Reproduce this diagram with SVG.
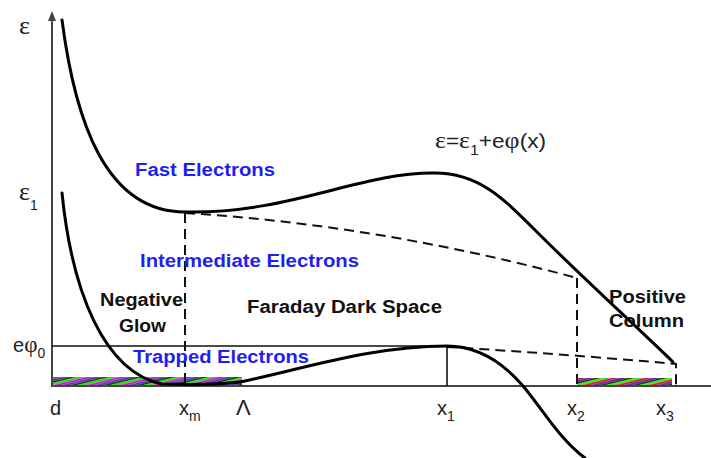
<svg xmlns="http://www.w3.org/2000/svg" width="711" height="458" viewBox="0 0 711 458">
<style>
.curve{fill:none;stroke:#000;stroke-width:3;stroke-linecap:round;stroke-linejoin:round}
.dash{fill:none;stroke:#111;stroke-width:2;stroke-dasharray:10,6}
.axis{fill:none;stroke:#444;stroke-width:2}
.thin{fill:none;stroke:#111;stroke-width:1.6}
.lbl{font-family:"Liberation Sans",Arial,sans-serif;font-size:20px;fill:#222}
.greek{font-family:"Liberation Serif","Times New Roman",serif}
.sub{font-size:14px}
.bold{font-family:"Liberation Sans",Arial,sans-serif;font-size:18px;font-weight:bold;fill:#111}
.blue{fill:#1f1ff0}
</style>
<defs>
<pattern id="hatch1" patternUnits="userSpaceOnUse" width="40" height="8" patternTransform="rotate(-14)">
<rect x="0" y="0" width="40" height="2.5" fill="#33dd22"/>
<rect x="0" y="2.5" width="40" height="2" fill="#cc11bb"/>
<rect x="0" y="4.5" width="40" height="2" fill="#5533cc"/>
<rect x="0" y="6.5" width="40" height="1.5" fill="#1a2a1a"/>
</pattern>
<pattern id="hatch2" patternUnits="userSpaceOnUse" width="40" height="8" patternTransform="rotate(-14)">
<rect x="0" y="0" width="40" height="2.5" fill="#44ee22"/>
<rect x="0" y="2.5" width="40" height="2" fill="#dd1111"/>
<rect x="0" y="4.5" width="40" height="2" fill="#5522bb"/>
<rect x="0" y="6.5" width="40" height="1.5" fill="#222"/>
</pattern>
</defs>

<g id="bars">
<rect x="52" y="377" width="190" height="9" fill="url(#hatch1)"/>
<rect x="577" y="378" width="95" height="8" fill="url(#hatch2)"/>
</g>

<g id="axes">
<line class="axis" x1="52" y1="18" x2="52" y2="387"/>
<polygon points="52,11 48,21 56,21" fill="#444"/>
<line class="axis" x1="51" y1="386" x2="711" y2="386"/>
</g>

<g id="connectors">
<line class="thin" x1="52" y1="346" x2="447" y2="346"/>
<line class="thin" x1="447" y1="346" x2="447" y2="386"/>
<path class="dash" d="M185,213 Q380,225 577,278"/>
<line class="dash" x1="185" y1="213" x2="185" y2="386"/>
<line class="dash" x1="577" y1="278" x2="577" y2="386"/>
<path class="dash" d="M447,347 Q565,354 676,364 L676,386"/>
</g>

<g id="upper-curve">
<path class="curve" d="M62,20 C75,120 105,212 185,212 C290,214 360,172 435,173 C480,173 505,200 540,235 C580,275 640,330 673,362"/>
</g>

<g id="lower-curve">
<path class="curve" d="M62,193 C72,292 104,372 162,384 C192,385 215,385 240,382 C300,370 370,346 447,346 C480,346 505,365 523,386 C541,407 560,440 585,458"/>
</g>

<g id="axis-labels">
<text class="lbl greek" x="19" y="34" style="font-size:26px">ε</text>
<text class="lbl" x="19" y="200"><tspan class="greek" style="font-size:26px">ε</tspan><tspan class="sub" dy="10">1</tspan></text>
<text class="lbl" x="13" y="352">e<tspan class="greek" style="font-size:23px">φ</tspan><tspan class="sub" dy="6">0</tspan></text>
<text class="lbl" x="435" y="148" textLength="111" lengthAdjust="spacingAndGlyphs"><tspan class="greek" style="font-size:23px">ε</tspan>=<tspan class="greek" style="font-size:23px">ε</tspan><tspan class="sub" dy="7">1</tspan><tspan dy="-7">+e</tspan><tspan class="greek" style="font-size:23px">φ</tspan>(x)</text>
<text class="lbl" x="50" y="415">d</text>
<text class="lbl" x="179" y="415">x<tspan class="sub" dy="6">m</tspan></text>
<text class="lbl" x="236" y="415" style="font-size:22px">Λ</text>
<text class="lbl" x="437" y="415">x<tspan class="sub" dy="6">1</tspan></text>
<text class="lbl" x="567" y="415">x<tspan class="sub" dy="6">2</tspan></text>
<text class="lbl" x="656" y="415">x<tspan class="sub" dy="6">3</tspan></text>
</g>

<g id="region-labels">
<text class="bold blue" x="135" y="176" textLength="140" lengthAdjust="spacingAndGlyphs">Fast Electrons</text>
<text class="bold blue" x="140" y="267" textLength="219" lengthAdjust="spacingAndGlyphs">Intermediate Electrons</text>
<text class="bold blue" x="133" y="363" textLength="176" lengthAdjust="spacingAndGlyphs">Trapped Electrons</text>
<text class="bold" x="100" y="306" textLength="83" lengthAdjust="spacingAndGlyphs">Negative</text>
<text class="bold" x="119" y="332" textLength="47" lengthAdjust="spacingAndGlyphs">Glow</text>
<text class="bold" x="247" y="313" textLength="195" lengthAdjust="spacingAndGlyphs">Faraday Dark Space</text>
<text class="bold" x="609" y="303" textLength="77" lengthAdjust="spacingAndGlyphs">Positive</text>
<text class="bold" x="609" y="327" textLength="75" lengthAdjust="spacingAndGlyphs">Column</text>
</g>
</svg>
